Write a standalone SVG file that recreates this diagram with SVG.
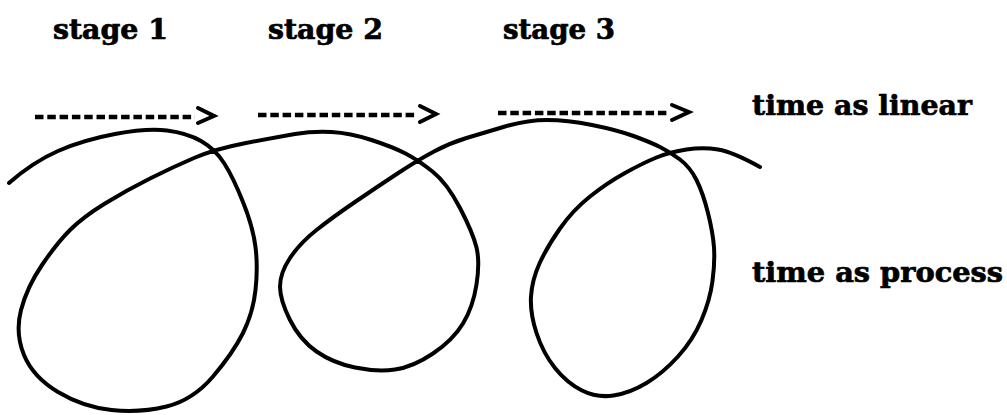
<svg xmlns="http://www.w3.org/2000/svg" width="1007" height="415" viewBox="0 0 1007 415">
<style>
.lbl{font-family:"DejaVu Serif","Liberation Serif",serif;font-weight:bold;font-size:28px;fill:#000;stroke:#000;stroke-width:0.7}
.dash{stroke:#000;stroke-width:4.5;stroke-dasharray:8.5 3.8;fill:none}
.head{stroke:#000;stroke-width:4;fill:none;stroke-linejoin:miter;stroke-linecap:round}
.spiral{stroke:#000;stroke-width:4;fill:none;stroke-linecap:round;stroke-linejoin:round}
</style>
<rect width="1007" height="415" fill="#fff"/>
<g id="stage-labels">
<text class="lbl" x="53" y="39" textLength="115" lengthAdjust="spacingAndGlyphs">stage 1</text>
<text class="lbl" x="268" y="39" textLength="115" lengthAdjust="spacingAndGlyphs">stage 2</text>
<text class="lbl" x="503" y="39" textLength="112" lengthAdjust="spacingAndGlyphs">stage 3</text>
</g>
<g id="time-labels">
<text class="lbl" x="752" y="115" textLength="220" lengthAdjust="spacingAndGlyphs">time as linear</text>
<text class="lbl" x="752" y="282" textLength="251" lengthAdjust="spacingAndGlyphs">time as process</text>
</g>
<g id="linear-arrows">
<line class="dash" x1="35" y1="117" x2="195" y2="117"/>
<polyline class="head" points="198,108 214,116 198,123"/>
<line class="dash" x1="258" y1="115" x2="416" y2="115"/>
<polyline class="head" points="420,106 436,114 420,122"/>
<line class="dash" x1="498" y1="113" x2="668" y2="113"/>
<polyline class="head" points="672,105 689,112 672,120"/>
</g>
<g id="process-spiral">
<path class="spiral" d="M9,183 Q33,162 58,151 Q83,140 115,134 Q147,128 167,130.5 Q187,133 201,141 Q215,149 224,163 Q233,177 243,202 Q253,227 255.5,247 Q258,267 255.5,290 Q253,313 243,333 Q233,353 213,376.5 Q193,400 166.5,406.5 Q140,413 111.5,410 Q83,407 58,392 Q33,377 24,355 Q15,333 21,310 Q27,287 42,265 Q57,243 70,230 Q83,217 105,203.5 Q127,190 150,178.5 Q173,167 194,158 Q215,149 246,143 Q277,137 295,134 Q313,131 331.5,132 Q350,133 371.5,140 Q393,147 405.5,153.5 Q418,160 432.5,171.5 Q447,183 460,208 Q473,233 476.5,247.5 Q480,262 476.5,284.5 Q473,307 463,323.5 Q453,340 433,353.5 Q413,367 395,369.5 Q377,372 355,367.5 Q333,363 316.5,351.5 Q300,340 290,320 Q280,300 280,286.5 Q280,273 290,258 Q300,243 316.5,230 Q333,217 355,202 Q377,187 397.5,173.5 Q418,160 434,151.5 Q450,143 466.5,138 Q483,133 505,126.5 Q527,120 547,120 Q567,120 592,125 Q617,130 633.5,136 Q650,142 660,147 Q670,152 680,159.5 Q690,167 696.5,180 Q703,193 708,213 Q713,233 714,247.5 Q715,262 712.5,281 Q710,300 701.5,320 Q693,340 678,356.5 Q663,373 646.5,383 Q630,393 613.5,395.5 Q597,398 582,390.5 Q567,383 555,368 Q543,353 536.5,333 Q530,313 531,296.5 Q532,280 539.5,263.5 Q547,247 560,228.5 Q573,210 590,196.5 Q607,183 625,173 Q643,163 656.5,157.5 Q670,152 686.5,149.5 Q703,147 718,149.5 Q733,152 760,167"/>
</g>
</svg>
